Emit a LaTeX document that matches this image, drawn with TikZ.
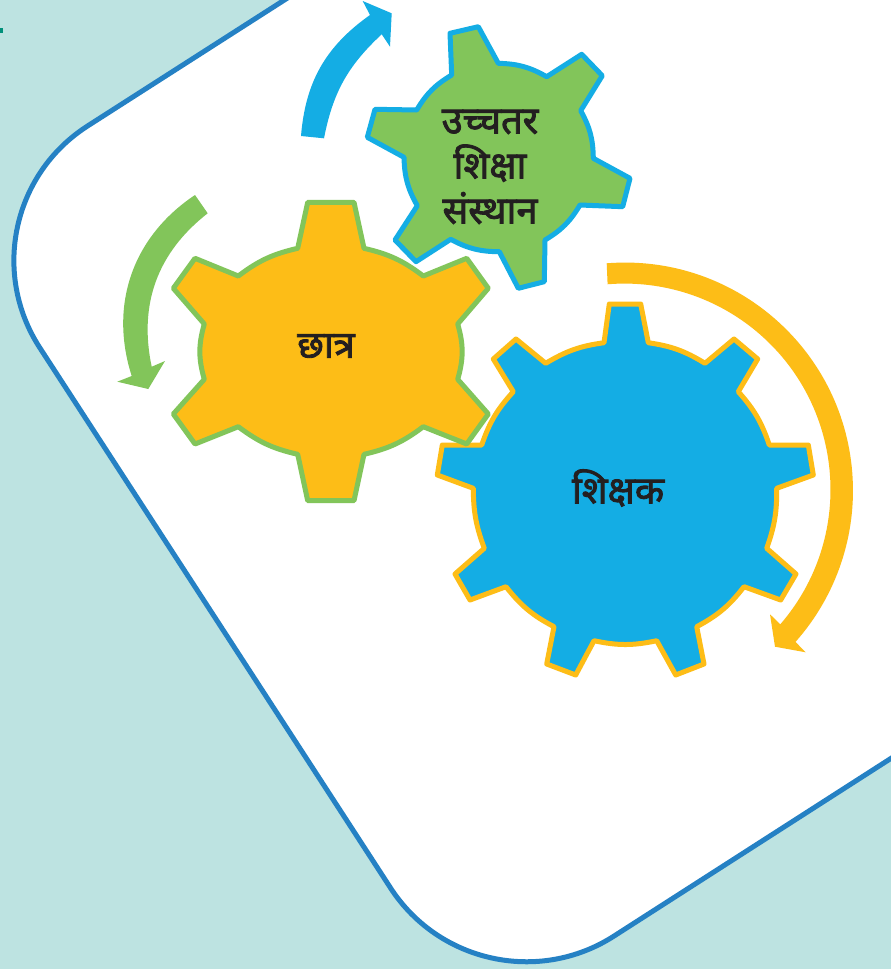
\documentclass[tikz,border=0pt]{standalone}
\usepackage{fontspec}
\newfontfamily\dev[Script=Devanagari,FakeBold=2.2]{Noto Sans}
\definecolor{bgteal}{HTML}{BDE3E1}
\definecolor{edgeblue}{HTML}{2581C4}
\definecolor{gyellow}{HTML}{FDBD17}
\definecolor{gblue}{HTML}{14ADE4}
\definecolor{ggreen}{HTML}{82C55A}
\definecolor{inkc}{HTML}{231F20}
\definecolor{dotc}{HTML}{00907A}
\tikzset{
  gearshape/.style={line width=5pt,line join=round},
  gearlabel/.style={text=inkc,font=\dev\fontsize{38pt}{45pt}\selectfont,align=center,inner sep=0pt},
}
\begin{document}
\begin{tikzpicture}[x=1pt,y=-1pt]
\useasboundingbox (0,0) rectangle (891,969);
\clip (0,0) rectangle (891,969);
\fill[bgteal] (0,0) rectangle (891,969);
\fill[dotc] (0,28) rectangle (3,33);
% white rounded panel
\fill[white] (400,-74) [rounded corners=161pt] -- (-47.9,212.7) -- (478.3,1023.1) [sharp corners] -- (950,720.5) -- (1100,-74) -- cycle;
\draw[edgeblue,line width=5pt,rounded corners=161pt] (400,-74) -- (-47.9,212.7) -- (478.3,1023.1) -- (950,720.5);
% rotation arrows
\fill[gblue] (301,136) to[bend left=25] (370,15) -- (362.7,1) -- (391.7,13.3) -- (390,46.7) -- (381.7,34.3) to[bend right=18] (324,138.3) -- cycle;
\fill[ggreen] (195,195) to[bend right=37] (131.7,376) -- (117.3,381.7) -- (148.3,389) -- (165,361) -- (151.7,366.7) to[bend left=32] (207.7,213.3) -- cycle;
\fill[gyellow] (606.7,263.3) arc[start angle=94.6,end angle=-41.6,radius=228pt] -- (805.7,652.3) -- (775,646.7) -- (770,614.3) -- (780.3,624.3) arc[start angle=-40.85,end angle=94.7,radius=206pt] -- cycle;
% blue gear
\draw[gearshape,draw=gyellow,fill=gblue]
 (609.3,304) -- (640.7,304) -- (648.3,342.7) to[bend left=11.5] (705,363.3) -- (734,339) -- (757.7,359) -- (738.3,391.7) to[bend left=11.5] (769.3,445) -- (808.3,445) -- (813.3,475) -- (776.7,488.3) to[bend left=10] (766.7,548.3) -- (796,574) -- (780.7,600) -- (744,586.7) to[bend left=12] (696.7,626.7) -- (704,664) -- (675.7,675) -- (656.7,640.7) to[bend left=12] (594,640.7) -- (575.7,675) -- (546.7,664) -- (554,626.7) to[bend left=12] (506,586.7) -- (470,600) -- (455,574) -- (484.3,548.3) to[bend left=10] (473.3,488.3) -- (437.3,475) -- (442.3,445) -- (481.7,445) to[bend left=11.7] (513.3,391.7) -- (493.3,359) -- (516,339) -- (545.7,363.3) to[bend left=11.5] (604,342.7) -- cycle;
% yellow gear
\draw[gearshape,draw=ggreen,fill=gyellow]
 (307.7,202.3) -- (354,202.3) -- (364,248.3) to[bend left=12] (423.3,276) -- (466.7,258.3) -- (488.3,288.3) -- (457.7,324) to[bend left=16] (457.7,379.3) -- (488.3,414) -- (466.7,444) -- (423.3,426.7) to[bend left=12] (364,454.3) -- (354,500.7) -- (307.7,500.7) -- (297.7,454.3) to[bend left=12] (238.3,426.7) -- (195,444) -- (173.3,414) -- (204.3,379.3) to[bend left=16] (204.3,324) -- (173.3,288.3) -- (195,258.3) -- (238.3,276) to[bend left=12] (297.7,248.3) -- cycle;
% green gear
\draw[gearshape,draw=gblue,fill=ggreen]
 (450,33.3) -- (478.3,26.7) -- (498.3,63.3) to[bend left=14] (546.7,76.7) -- (581.7,54.3) -- (602.3,75.7) -- (580.7,110.7) to[bend left=14] (593.3,158.3) -- (630,178.3) -- (622.7,206.7) -- (580,205) to[bend left=14] (545,240) -- (544.3,281.7) -- (518.3,288.3) -- (499.3,251.7) to[bend left=14] (450.7,239.3) -- (416,261.7) -- (395,240) -- (417.3,205.7) to[bend left=14] (404,157.3) -- (367.3,137.3) -- (375,109.3) -- (416.7,110) to[bend left=14] (451.7,75) -- cycle;
% labels
\node[gearlabel] (higher) at (490,167) {उच्चतर\\शिक्षा\\संस्थान};
\node[gearlabel] (student) at (326,346) {छात्र};
\node[gearlabel] (teacher) at (618,488) {शिक्षक};
\end{tikzpicture}
\end{document}
